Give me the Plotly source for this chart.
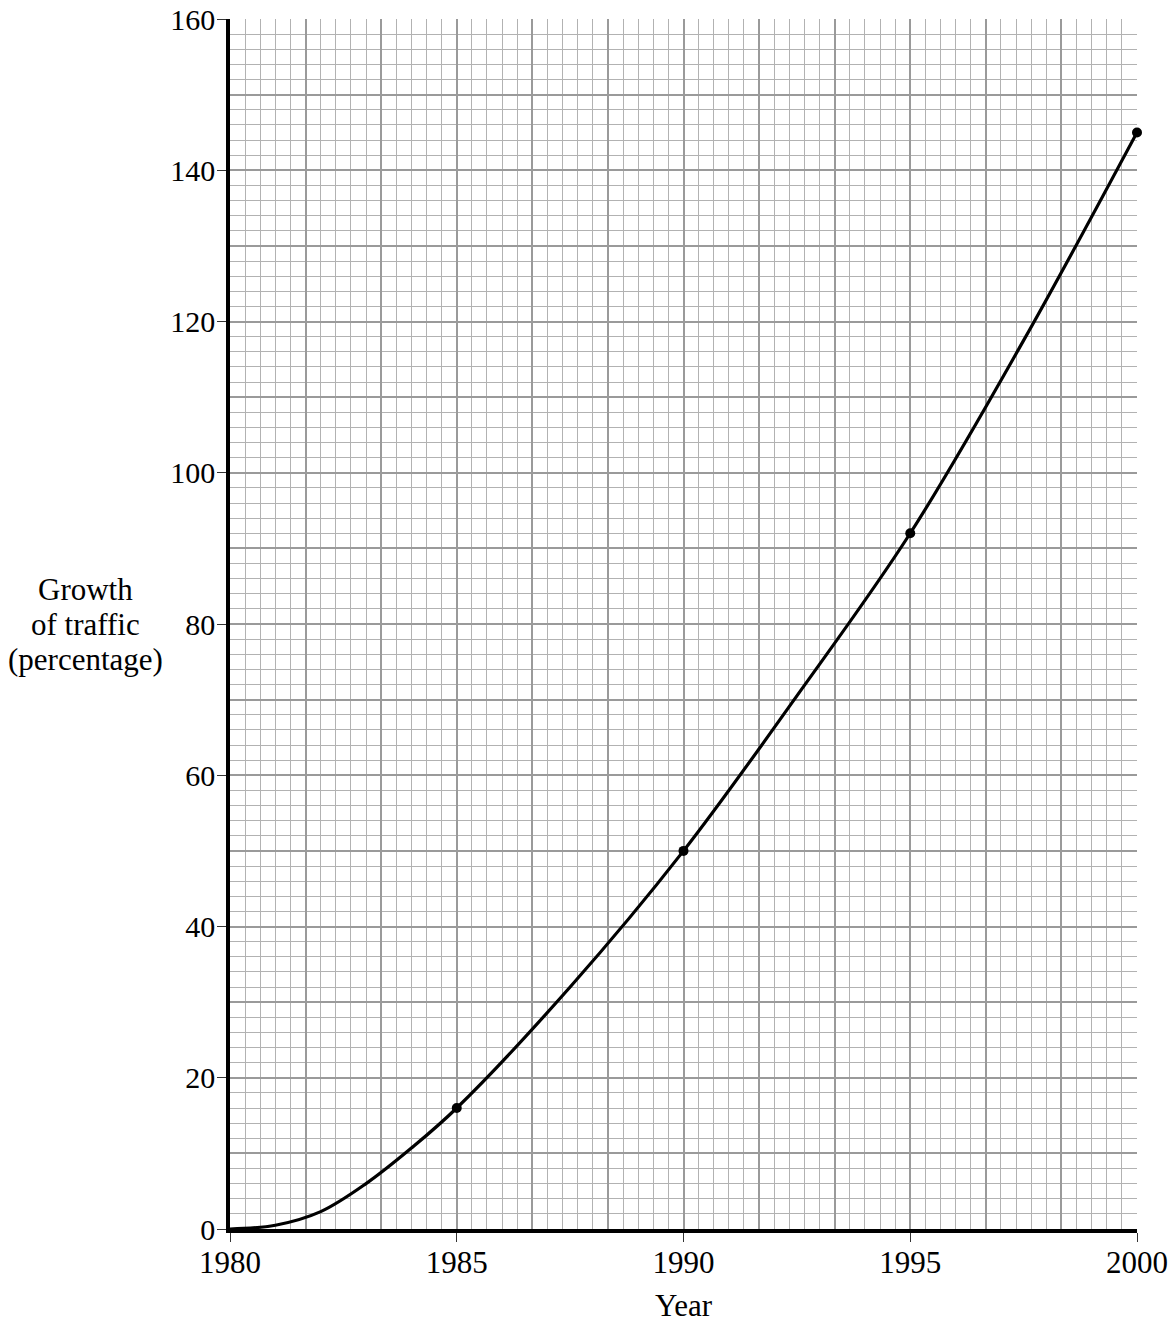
import plotly.graph_objects as go

# Curve values
curve_years = [1980, 1981, 1982, 1983, 1984, 1985, 1987.5, 1990, 1992.5, 1995, 1997.5, 2000]
curve_growth = [0, 0.5, 2.3, 6.0, 10.7, 16, 32, 50, 70.5, 92, 117.5, 145]

# Plotted points
point_years = [1985, 1990, 1995, 2000]
point_growth = [16, 50, 92, 145]

x_tick_vals = [1980, 1985, 1990, 1995, 2000]
y_tick_vals = [0, 20, 40, 60, 80, 100, 120, 140, 160]

y_title_lines = ["Growth", "of traffic", "(percentage)"]
x_title = "Year"

FONT = "Liberation Serif, Times New Roman, serif"

fig = go.Figure()
fig.add_trace(go.Scatter(
    x=curve_years, y=curve_growth, mode="lines",
    line=dict(color="black", width=3.2, shape="spline", smoothing=1.0),
    hoverinfo="skip", showlegend=False, xaxis="x", yaxis="y", cliponaxis=False))
fig.add_trace(go.Scatter(
    x=point_years, y=point_growth, mode="markers",
    marker=dict(color="black", size=10),
    showlegend=False, xaxis="x", yaxis="y", cliponaxis=False))

fig.update_layout(
    width=1174, height=1324,
    margin=dict(l=230, r=37, t=19, b=95, autoexpand=False),
    plot_bgcolor="white", paper_bgcolor="white",
    font=dict(family=FONT, size=30, color="black"),
    xaxis=dict(
        range=[1980, 2000], tick0=1980, dtick=20/12,
        showgrid=True, gridcolor="#9a9a9a", gridwidth=2.4,
        showticklabels=False, ticks="", zeroline=False,
        showline=False, automargin=False,
        minor=dict(dtick=1/3, tick0=1980, showgrid=True,
                   gridcolor="#b2b2b2", gridwidth=1.3),
        fixedrange=True,
    ),
    yaxis=dict(
        range=[0, 160], tick0=0, dtick=10,
        showgrid=True, gridcolor="#9a9a9a", gridwidth=2.4,
        showticklabels=False, ticks="", zeroline=False,
        showline=False, automargin=False,
        minor=dict(dtick=2, tick0=0, showgrid=True,
                   gridcolor="#b2b2b2", gridwidth=1.3),
        fixedrange=True,
    ),
    xaxis2=dict(
        range=[1980, 2000], overlaying="x", side="bottom", anchor="y2",
        tickvals=x_tick_vals, ticktext=[str(v) for v in x_tick_vals],
        ticks="outside", ticklen=9, tickwidth=1.2, tickcolor="#333333",
        ticklabelstandoff=-6,
        showgrid=False, zeroline=False, showline=True, linecolor="black", linewidth=3.5,
        tickfont=dict(family=FONT, size=31, color="black"),
        automargin=False, fixedrange=True,
    ),
    yaxis2=dict(
        range=[0, 160], overlaying="y", side="left", anchor="x2",
        tickvals=y_tick_vals, ticktext=[str(v) for v in y_tick_vals],
        ticks="outside", ticklen=9, tickwidth=1.2, tickcolor="#333333",
        ticklabelstandoff=-4,
        showgrid=False, zeroline=False, showline=True, linecolor="black", linewidth=3.5,
        tickfont=dict(family=FONT, size=30, color="black"),
        automargin=False, fixedrange=True,
    ),
)

# invisible trace to activate overlay axes
fig.add_trace(go.Scatter(x=[1980], y=[0], mode="markers", marker=dict(opacity=0),
                         hoverinfo="skip", showlegend=False, xaxis="x2", yaxis="y2"))

for i, line in enumerate(y_title_lines):
    fig.add_annotation(
        text=line, xref="paper", yref="y",
        x=-0.159, y=84.5 - i * 4.6, xanchor="center", yanchor="middle",
        showarrow=False, font=dict(family=FONT, size=31, color="black"))

fig.add_annotation(
    text=x_title, xref="paper", yref="paper", x=0.5, y=-0.063,
    xanchor="center", yanchor="middle", showarrow=False,
    font=dict(family=FONT, size=31, color="black"))

fig.write_html("out.html", config={"displayModeBar": False},
               post_script="document.body.style.margin='0';")
